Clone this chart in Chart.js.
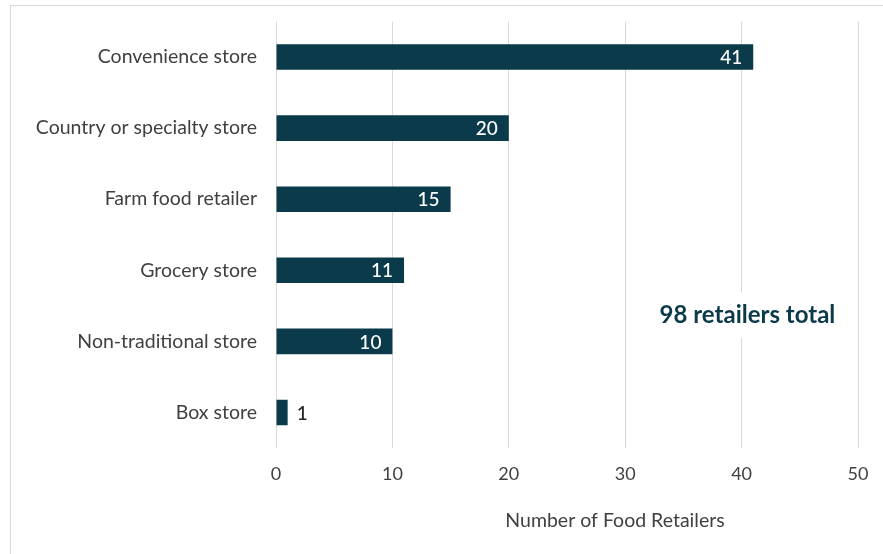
<!DOCTYPE html>
<html>
<head>
<meta charset="utf-8">
<script src="https://cdn.jsdelivr.net/npm/chart.js@4.4.1/dist/chart.umd.min.js"></script>
<style>
  html, body { margin: 0; padding: 0; background: #fff; }
  .frame { position: absolute; left: 10px; top: 5px; width: 900px; height: 600px; border: 1px solid #d9d9d9; }
  #wrap { position: absolute; left: 0; top: 0; width: 883px; height: 554px; }
</style>
</head>
<body>
<div class="frame"></div>
<div id="wrap"><canvas id="retailerChart" width="883" height="554"></canvas></div>
<script>
const categories = ['Convenience store', 'Country or specialty store', 'Farm food retailer', 'Grocery store', 'Non-traditional store', 'Box store'];
const retailerCounts = [41, 20, 15, 11, 10, 1];
const xTicks = [0, 10, 20, 30, 40, 50];
const totalLabel = '98 retailers total';
const axisTitle = 'Number of Food Retailers';

const navy = '#0b3a4b';
const fontFamily = "'Lato', 'Open Sans', sans-serif";

// value labels at the end of each bar, white inside or dark outside for short bars
const barLabels = {
  id: 'barLabels',
  afterDatasetsDraw(chart) {
    const ctx = chart.ctx;
    const meta = chart.getDatasetMeta(0);
    ctx.save();
    ctx.font = '500 19px ' + fontFamily;
    ctx.textBaseline = 'middle';
    meta.data.forEach((bar, i) => {
      const v = retailerCounts[i];
      const width = bar.x - bar.base;
      if (width > 40) {
        ctx.fillStyle = '#ffffff';
        ctx.textAlign = 'right';
        ctx.fillText(String(v), bar.x - 11, bar.y + 1);
      } else {
        ctx.fillStyle = '#262626';
        ctx.textAlign = 'left';
        ctx.fillText(String(v), bar.x + 9, bar.y + 1);
      }
    });
    ctx.restore();
  }
};

// total note and the x axis title
const extras = {
  id: 'extras',
  afterDraw(chart) {
    const ctx = chart.ctx;
    const x = chart.scales.x;
    ctx.save();
    ctx.font = 'bold 24px ' + fontFamily;
    ctx.textAlign = 'center';
    ctx.textBaseline = 'middle';
    const tx = x.getPixelForValue(40.5);
    const ty = 315;
    const w = ctx.measureText(totalLabel).width;
    ctx.fillStyle = '#ffffff';
    ctx.fillRect(tx - w / 2 - 4, ty - 23, w + 8, 46);
    ctx.fillStyle = navy;
    ctx.fillText(totalLabel, tx, ty);

    ctx.font = '19.5px ' + fontFamily;
    ctx.fillStyle = '#404040';
    ctx.fillText(axisTitle, 615, 521);
    ctx.restore();
  }
};

new Chart(document.getElementById('retailerChart'), {
  type: 'bar',
  data: {
    labels: categories,
    datasets: [{
      data: retailerCounts,
      backgroundColor: navy,
      barPercentage: 0.36,
      categoryPercentage: 1.0
    }]
  },
  options: {
    indexAxis: 'y',
    responsive: false,
    animation: false,
    layout: { padding: { top: 21.5, right: 25, left: 0, bottom: 0 } },
    plugins: {
      legend: { display: false },
      tooltip: { enabled: false }
    },
    scales: {
      x: {
        min: 0,
        max: 50,
        afterBuildTicks(scale) {
          scale.ticks = xTicks.map(v => ({ value: v }));
        },
        afterFit(scale) {
          scale.height = 106;
          scale.paddingLeft = 0;
          scale.paddingRight = 0;
        },
        grid: { color: '#d9d9d9', lineWidth: 1, drawTicks: false },
        border: { display: false },
        ticks: {
          padding: 15,
          color: '#404040',
          font: { family: fontFamily, size: 18 }
        }
      },
      y: {
        afterFit(scale) {
          scale.width = 276;
          scale.paddingTop = 0;
          scale.paddingBottom = 0;
        },
        grid: { display: false, drawTicks: false },
        border: { display: false },
        ticks: {
          padding: 19,
          color: '#404040',
          font: { family: fontFamily, size: 19.5 }
        }
      }
    }
  },
  plugins: [barLabels, extras]
});
</script>
</body>
</html>
